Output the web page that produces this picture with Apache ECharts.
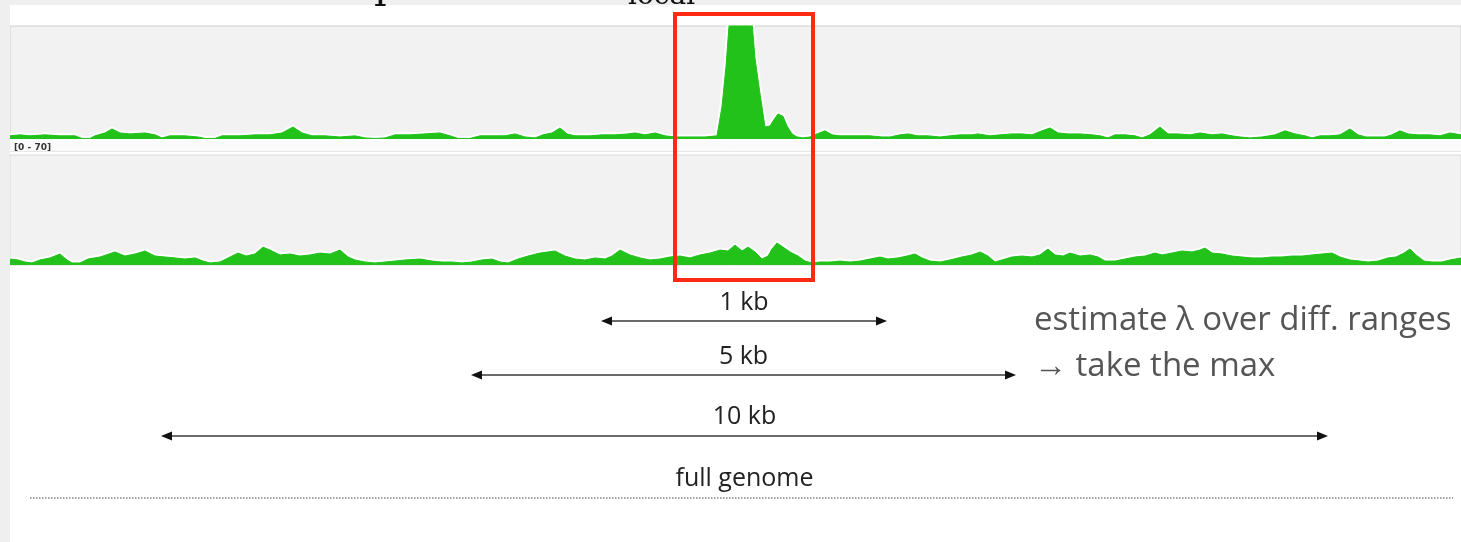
<!DOCTYPE html>
<html>
<head>
<meta charset="utf-8">
<script src="https://cdn.jsdelivr.net/npm/echarts@6/dist/echarts.min.js"></script>
<style>
  html, body { margin: 0; padding: 0; background: #ffffff; }
  #chart { width: 1461px; height: 542px; }
</style>
</head>
<body>
<div id="chart"></div>
<script>
// Read coverage along the region: [position (bp), coverage]
const treatmentCoverage = [
  [0,1.9],[100,2.5],[200,1.9],[350,2.5],[500,1.9],[650,1.9],[720,0.3],[800,0.3],[850,1.9],[950,3.7],
  [1020,6.2],[1100,3.7],[1200,3.1],[1350,3.7],[1450,2.5],[1520,0.6],[1600,1.9],[1750,1.9],[1880,1.2],[1950,0.3],
  [2050,0.3],[2120,1.9],[2300,1.9],[2450,2.5],[2600,2.5],[2720,3.7],[2830,7.4],[2920,3.7],[3020,1.9],[3150,1.9],
  [3300,1.2],[3450,1.9],[3550,0.6],[3650,0.3],[3750,0.6],[3850,2.5],[4000,2.5],[4150,3.1],[4300,3.7],[4400,1.9],
  [4480,0.3],[4600,0.3],[4700,1.9],[4850,1.9],[4950,1.9],[5050,3.1],[5150,1.2],[5250,0.6],[5330,2.5],[5420,3.7],
  [5500,6.8],[5570,3.1],[5650,1.9],[5800,1.9],[5920,2.5],[6050,2.5],[6180,3.1],[6250,3.7],[6350,2.5],[6450,3.7],
  [6550,1.9],[6650,1.2],[6800,1.2],[6950,1.2],[7070,1.9],[7120,20],[7160,45],[7190,70],[7220,80],[7300,80],
  [7410,80],[7450,50],[7500,28],[7550,7.4],[7600,8],[7640,12],[7680,15.5],[7730,14],[7770,8],[7820,3.1],
  [7870,1.2],[7930,0.6],[8000,1.2],[8070,3.1],[8150,5],[8220,2.5],[8300,1.9],[8450,1.9],[8600,1.9],[8720,1.2],
  [8800,1.2],[8900,2.5],[8980,3.1],[9080,1.9],[9180,1.9],[9300,1.2],[9400,1.9],[9500,2.5],[9620,2.5],[9680,3.1],
  [9800,1.9],[9900,2.5],[10020,3.1],[10120,3.1],[10220,2.5],[10320,5],[10400,6.8],[10480,3.7],[10580,3.1],[10700,3.1],
  [10820,2.5],[10900,1.9],[10980,0.6],[11050,2.5],[11150,2.5],[11250,1.9],[11320,0.6],[11400,2.5],[11500,7.4],[11580,3.1],
  [11680,3.1],[11800,2.5],[11900,3.7],[12020,2.5],[12120,3.1],[12220,1.9],[12300,1.2],[12400,0.6],[12520,1.2],[12650,2.5],
  [12750,5],[12850,3.1],[12950,1.9],[13020,0.6],[13100,1.9],[13200,1.9],[13300,2.5],[13400,6.2],[13480,2.5],[13560,1.2],
  [13650,1.2],[13750,1.2],[13820,2.5],[13900,5],[13980,3.1],[14080,2.5],[14200,2.5],[14300,1.9],[14400,3.7],[14510,2.5]
];

const controlCoverage = [
  [0,3.8],[80,3.2],[150,1.9],[220,1.3],[300,3.2],[400,4.5],[500,7],[570,3.2],[620,1.3],[700,1.3],
  [780,3.8],[900,5.1],[1050,8.3],[1150,5.7],[1250,7],[1350,8.9],[1450,5.7],[1550,5.1],[1650,4.5],[1750,3.8],
  [1850,4.5],[1930,2.5],[2000,1.3],[2100,1.9],[2200,5.1],[2280,7.6],[2360,5.7],[2450,7],[2530,11.4],[2600,9.5],
  [2700,6.4],[2800,7],[2900,5.7],[3000,6.4],[3100,7.6],[3200,7],[3300,9.5],[3380,5.1],[3450,3.2],[3550,1.9],
  [3650,1.3],[3750,1.9],[3850,2.5],[3950,3.2],[4100,3.8],[4220,2.5],[4320,1.9],[4420,1.9],[4520,1.3],[4620,1.9],
  [4720,3.2],[4820,3.8],[4900,1.9],[4980,1.3],[5080,3.8],[5180,5.7],[5300,7.6],[5450,8.9],[5550,5.7],[5650,3.8],
  [5750,3.2],[5850,4.5],[5950,3.8],[6020,5.7],[6100,9.5],[6200,6.4],[6300,4.5],[6400,3.2],[6500,3.8],[6600,5.1],
  [6700,5.7],[6800,4.5],[6900,6.4],[7000,7.6],[7100,9.5],[7180,8.9],[7250,12.7],[7320,8.9],[7380,11.4],[7450,8.3],
  [7520,3.8],[7580,5.7],[7620,10.2],[7670,14],[7730,11.4],[7800,8.3],[7880,5.7],[7950,2.5],[8020,1.3],[8100,1.9],
  [8200,1.9],[8300,2.5],[8400,1.9],[8500,2.5],[8600,3.8],[8700,5.1],[8780,3.8],[8880,4.5],[8970,5.7],[9050,7],
  [9120,4.5],[9200,2.5],[9300,1.9],[9400,3.2],[9520,5.1],[9620,6.4],[9700,8.3],[9780,5.7],[9850,1.9],[9920,3.2],
  [10020,5.1],[10120,5.7],[10220,5.1],[10300,6.4],[10380,10.2],[10450,6.4],[10530,5.7],[10600,7.6],[10700,5.7],[10800,6.4],
  [10880,5.1],[10950,2.5],[11050,2.5],[11150,3.8],[11250,5.1],[11350,5.7],[11450,7.6],[11520,6.4],[11620,7.6],[11720,8.9],
  [11820,8.3],[11900,9.5],[11950,10.8],[12020,7.6],[12120,7],[12220,5.7],[12320,5.1],[12420,4.5],[12520,4.5],[12620,5.1],
  [12720,5.1],[12820,5.7],[12920,5.7],[13020,6.4],[13120,7],[13220,7.6],[13300,5.1],[13400,3.2],[13500,2.5],[13580,1.9],
  [13680,2.5],[13780,4.5],[13860,5.1],[13940,7.6],[14000,10.2],[14060,6.4],[14140,2.5],[14220,1.9],[14320,1.9],[14400,3.2],
  [14510,4.5]
];

// Region shown and track data range
const regionStart = 0;
const regionEnd = 14510;
const trackRangeLabel = '[0 - 70]';
const trackMax = 70;

// Local window around the peak (bp)
const localWindow = [6650, 8030];

// Background windows used to estimate lambda: label, [start, end] in bp
const windowLabels = ['1 kb', '5 kb', '10 kb'];
const windowRanges = [[5910, 8770], [4610, 10060], [1510, 13180]];
const genomeLabel = 'full genome';

const noteLines = ['estimate \u03bb over diff. ranges', '\u2192 take the max'];

const GREEN = '#22c21b';
const PANEL_BG = '#f2f2f2';

function trackSeries(idx, data) {
  return [
    { // white halo along the coverage profile
      type: 'line', xAxisIndex: idx, yAxisIndex: idx, data: data,
      symbol: 'none', silent: true, z: 2,
      lineStyle: { color: '#ffffff', width: 5 }
    },
    {
      type: 'line', xAxisIndex: idx, yAxisIndex: idx, data: data,
      symbol: 'none', silent: true, z: 3,
      lineStyle: { color: GREEN, width: 1 },
      areaStyle: { color: GREEN, opacity: 1 }
    }
  ];
}

const chart = echarts.init(document.getElementById('chart'), null, { renderer: 'canvas' });

const option = {
  animation: false,
  backgroundColor: '#ffffff',
  grid: [
    { left: 10, right: 0, top: 26, height: 125, show: true, backgroundColor: PANEL_BG, borderColor: '#cfcfcf', borderWidth: 1 },
    { left: 10, right: 0, top: 155, height: 110, show: true, backgroundColor: PANEL_BG, borderColor: '#d8d8d8', borderWidth: 1 }
  ],
  xAxis: [0, 1].map(i => ({
    type: 'value', gridIndex: i, min: regionStart, max: regionEnd,
    axisLine: { show: false }, axisTick: { show: false }, axisLabel: { show: false }, splitLine: { show: false }
  })),
  yAxis: [
    { type: 'value', gridIndex: 0, min: -7.5, max: trackMax,
      axisLine: { show: false }, axisTick: { show: false }, axisLabel: { show: false }, splitLine: { show: false } },
    { type: 'value', gridIndex: 1, min: 0, max: trackMax,
      axisLine: { show: false }, axisTick: { show: false }, axisLabel: { show: false }, splitLine: { show: false } }
  ],
  series: [
    ...trackSeries(0, treatmentCoverage),
    ...trackSeries(1, controlCoverage),
    { // lighter strip below the first track's baseline
      type: 'line', xAxisIndex: 0, yAxisIndex: 0, data: [], silent: true, z: 1,
      markArea: { silent: true, itemStyle: { color: '#fafafa' },
        data: [[{ xAxis: regionStart, yAxis: -7.5 }, { xAxis: regionEnd, yAxis: 0 }]] }
    }
  ]
};
chart.setOption(option);

const px = v => chart.convertToPixel({ xAxisIndex: 0 }, v);
const FONT = '"Open Sans", "Noto Sans", sans-serif';

function arrow(x1, x2, y) {
  const h = 11, w = 4.5;
  return [
    { type: 'line', shape: { x1: x1 + 4, y1: y, x2: x2 - 4, y2: y },
      style: { stroke: '#3a3a3a', lineWidth: 1.5 }, z: 10 },
    { type: 'polygon', shape: { points: [[x1, y], [x1 + h, y - w], [x1 + h, y + w]] },
      style: { fill: '#111' }, z: 10 },
    { type: 'polygon', shape: { points: [[x2, y], [x2 - h, y - w], [x2 - h, y + w]] },
      style: { fill: '#111' }, z: 10 }
  ];
}

const arrowY = [321, 375, 436];
const labelY = [303, 357, 417];
const elements = [];

// page margins
elements.push({ type: 'rect', shape: { x: 0, y: 0, width: 10, height: 542 }, style: { fill: '#efefef' }, z: 0 });
elements.push({ type: 'rect', shape: { x: 0, y: 0, width: 1461, height: 5 }, style: { fill: '#efefef' }, z: 0 });

// heading fragments, mostly above the visible area
elements.push({ type: 'text', x: 374, y: 8, style: { text: 'p', font: '40px "DejaVu Serif", "Liberation Serif", serif', fill: '#111', textVerticalAlign: 'bottom' }, z: 20 });
elements.push({ type: 'text', x: 628, y: 11, style: { text: 'local', font: '28px "DejaVu Serif", "Liberation Serif", serif', fill: '#111', textVerticalAlign: 'bottom' }, z: 20 });

// track range label
elements.push({ type: 'text', x: 14, y: 143, style: { text: trackRangeLabel, font: 'bold 9px "DejaVu Sans", sans-serif', fill: '#333' }, z: 20 });

// window arrows
windowRanges.forEach((r, i) => {
  const a = px(r[0]), b = px(r[1]);
  elements.push(...arrow(a, b, arrowY[i]));
  elements.push({ type: 'text', x: (a + b) / 2, y: labelY[i],
    style: { text: windowLabels[i], font: '25px ' + FONT, fill: '#222', textAlign: 'center', textVerticalAlign: 'middle' }, z: 10 });
});

// full genome
elements.push({ type: 'line', shape: { x1: 30, y1: 498, x2: 1453, y2: 498 },
  style: { stroke: '#444', lineWidth: 1.2, lineDash: [1.5, 1.5] }, z: 10 });
elements.push({ type: 'text', x: (px(windowRanges[2][0]) + px(windowRanges[2][1])) / 2, y: 479,
  style: { text: genomeLabel, font: '25px ' + FONT, fill: '#222', textAlign: 'center', textVerticalAlign: 'middle' }, z: 10 });

// side note
noteLines.forEach((t, i) => {
  elements.push({ type: 'text', x: 1034, y: 321 + i * 46,
    style: { text: t, font: '33px ' + FONT, fill: '#555', textAlign: 'left', textVerticalAlign: 'middle' }, z: 10 });
});

// local window box
const bx1 = px(localWindow[0]), bx2 = px(localWindow[1]);
elements.push({ type: 'rect', shape: { x: bx1, y: 14, width: bx2 - bx1, height: 266 },
  style: { fill: 'none', stroke: '#ff2a14', lineWidth: 4 }, z: 30 });

chart.setOption({ graphic: { elements: elements } });
</script>
</body>
</html>
